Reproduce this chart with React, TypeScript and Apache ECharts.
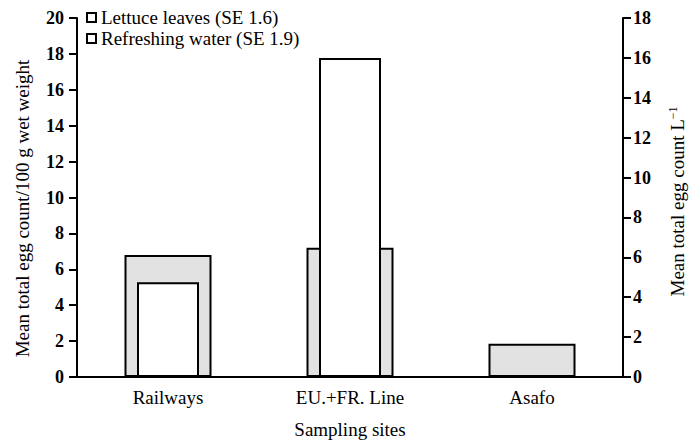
import React, { useEffect, useRef } from "react";
import * as echarts from "echarts";

const categories = ["Railways", "EU.+FR. Line", "Asafo"];
const lettuceValues = [6.8, 7.2, 1.85];
const waterValues: (number | null)[] = [4.75, 16.0, null];
const seriesNames = ["Lettuce leaves (SE 1.6)", "Refreshing water (SE 1.9)"];
const leftTitle = "Mean total egg count/100 g wet weight";
const rightTitle = "Mean total egg count L{sup|\u22121}";
const xTitle = "Sampling sites";

const FONT = "Liberation Serif";

export default function App() {
  const ref = useRef<HTMLDivElement>(null);
  useEffect(() => {
    if (!ref.current) return;
    const chart = echarts.init(ref.current, undefined, { renderer: "svg" });
    const axisLine = { show: true, lineStyle: { color: "#000", width: 2 } };
    const tickStyle = { show: true, length: 8, lineStyle: { color: "#000", width: 2 } };
    const tickLabel = { color: "#000", fontFamily: FONT, fontSize: 18, fontWeight: "bold" as const };
    chart.setOption({
      animation: false,
      backgroundColor: "#fff",
      textStyle: { fontFamily: FONT },
      grid: { left: 77, right: 68, top: 18, bottom: 67, containLabel: false, outerBoundsMode: "none" },
      legend: {
        orient: "vertical",
        left: 81,
        top: 3,
        itemGap: 2,
        itemWidth: 9,
        itemHeight: 9,
        icon: "rect",
        textStyle: { color: "#000", fontFamily: FONT, fontSize: 19 },
        data: seriesNames.map((n) => ({
          name: n,
          itemStyle: { color: "#fff", borderColor: "#000", borderWidth: 2 },
        })),
      },
      xAxis: [
        {
          type: "category",
          data: categories,
          axisLine,
          axisTick: { show: false },
          axisLabel: { color: "#000", fontFamily: FONT, fontSize: 19, margin: 11 },
          name: xTitle,
          nameLocation: "middle",
          nameGap: 43,
          nameTextStyle: { color: "#000", fontFamily: FONT, fontSize: 19 },
        },
        { type: "category", data: categories, show: false },
      ],
      yAxis: [
        {
          type: "value",
          min: 0,
          max: 20,
          interval: 2,
          axisLine,
          axisTick: tickStyle,
          axisLabel: { ...tickLabel, margin: 13 },
          splitLine: { show: false },
          name: leftTitle,
          nameLocation: "middle",
          nameRotate: 90,
          nameGap: 45,
          nameTextStyle: { color: "#000", fontFamily: FONT, fontSize: 19, padding: [0, 22, 0, 0] },
        },
        {
          type: "value",
          position: "right",
          min: 0,
          max: 18,
          interval: 2,
          axisLine,
          axisTick: tickStyle,
          axisLabel: { ...tickLabel, margin: 10 },
          splitLine: { show: false },
          name: rightTitle,
          nameLocation: "middle",
          nameRotate: 90,
          nameGap: 44,
          nameTextStyle: {
            color: "#000",
            fontFamily: FONT,
            fontSize: 19,
            padding: [0, 8, 0, 0],
            rich: { sup: { fontFamily: FONT, fontSize: 12, verticalAlign: "top", padding: [0, 0, 8, 0] } },
          },
        },
      ],
      series: [
        {
          name: seriesNames[0],
          type: "bar",
          xAxisIndex: 0,
          yAxisIndex: 0,
          barWidth: 87,
          data: lettuceValues,
          itemStyle: { color: "#e2e2e2", borderColor: "#000", borderWidth: 2 },
        },
        {
          name: seriesNames[1],
          type: "bar",
          xAxisIndex: 1,
          yAxisIndex: 1,
          barWidth: 62,
          data: waterValues,
          itemStyle: { color: "#fff", borderColor: "#000", borderWidth: 2 },
        },
      ],
    });
    return () => chart.dispose();
  }, []);
  return <div ref={ref} style={{ width: 691, height: 444, position: "absolute", left: 0, top: 0 }} />;
}
